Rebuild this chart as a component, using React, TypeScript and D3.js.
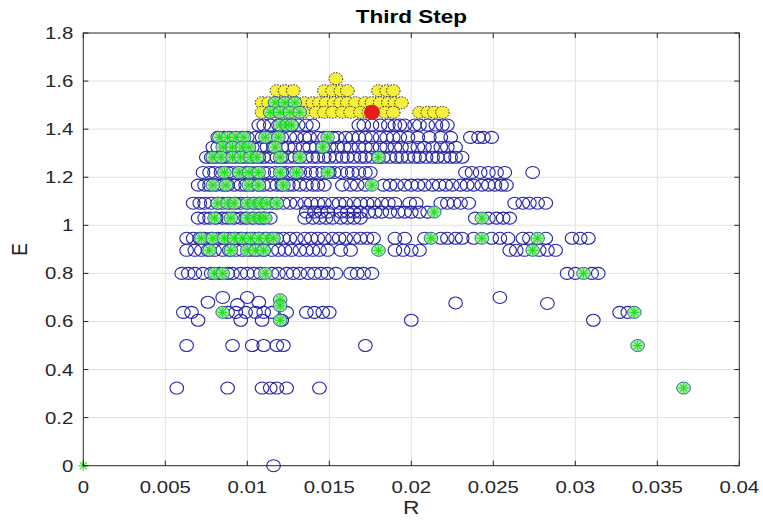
import React from "react";
import * as d3 from "d3";

// tick labels
const xTicks = [0, 0.005, 0.01, 0.015, 0.02, 0.025, 0.03, 0.035, 0.04];
const xTickLabels = ["0", "0.005", "0.01", "0.015", "0.02", "0.025", "0.03", "0.035", "0.04"];
const yTicks = [0, 0.2, 0.4, 0.6, 0.8, 1, 1.2, 1.4, 1.6, 1.8];
const yTickLabels = ["0", "0.2", "0.4", "0.6", "0.8", "1", "1.2", "1.4", "1.6", "1.8"];

// blue open circles, one row per E level: [E, R values]
const circleRows: [number, number[]][] = [
  [1.417, [0.0107, 0.0110, 0.0114, 0.0119, 0.0123, 0.0127, 0.0131, 0.0136, 0.0140, 0.0168, 0.0171, 0.0176, 0.0181, 0.0186, 0.0190, 0.0193, 0.0196, 0.0202, 0.0205, 0.0210, 0.0215, 0.0219, 0.0222]],
  [1.366, [0.0082, 0.0086, 0.0089, 0.0093, 0.0097, 0.0100, 0.0105, 0.0109, 0.0113, 0.0117, 0.0121, 0.0126, 0.0130, 0.0135, 0.0138, 0.0143, 0.0147, 0.0152, 0.0155, 0.0160, 0.0164, 0.0168, 0.0172, 0.0176, 0.0181, 0.0185, 0.0189, 0.0193, 0.0198, 0.0204, 0.0211, 0.0218, 0.0224, 0.0236, 0.0241, 0.0244, 0.0249]],
  [1.325, [0.0079, 0.0082, 0.0087, 0.0091, 0.0094, 0.0099, 0.0103, 0.0108, 0.0112, 0.0116, 0.0121, 0.0125, 0.0129, 0.0134, 0.0138, 0.0142, 0.0146, 0.0150, 0.0155, 0.0159, 0.0163, 0.0168, 0.0172, 0.0176, 0.0181, 0.0185, 0.0190, 0.0194, 0.0199, 0.0204, 0.0208, 0.0213, 0.0218, 0.0222, 0.0227]],
  [1.283, [0.0075, 0.0078, 0.0081, 0.0085, 0.0088, 0.0092, 0.0096, 0.0099, 0.0103, 0.0107, 0.0110, 0.0114, 0.0118, 0.0121, 0.0125, 0.0129, 0.0132, 0.0136, 0.0140, 0.0143, 0.0147, 0.0150, 0.0154, 0.0158, 0.0161, 0.0165, 0.0169, 0.0172, 0.0176, 0.0180, 0.0183, 0.0187, 0.0191, 0.0194, 0.0198, 0.0202, 0.0205, 0.0209, 0.0213, 0.0216, 0.0220, 0.0224, 0.0227, 0.0231]],
  [1.22, [0.0073, 0.0077, 0.0080, 0.0084, 0.0088, 0.0091, 0.0095, 0.0099, 0.0102, 0.0106, 0.0110, 0.0113, 0.0117, 0.0121, 0.0124, 0.0128, 0.0132, 0.0135, 0.0139, 0.0142, 0.0146, 0.0150, 0.0153, 0.0157, 0.0161, 0.0164, 0.0168, 0.0172, 0.0175, 0.0233, 0.0237, 0.0242, 0.0247, 0.0252, 0.0257, 0.0274]],
  [1.167, [0.0070, 0.0074, 0.0077, 0.0081, 0.0085, 0.0088, 0.0092, 0.0096, 0.0099, 0.0103, 0.0107, 0.0110, 0.0114, 0.0118, 0.0121, 0.0125, 0.0128, 0.0132, 0.0136, 0.0140, 0.0143, 0.0147, 0.0158, 0.0163, 0.0167, 0.0172, 0.0183, 0.0187, 0.0191, 0.0196, 0.0200, 0.0204, 0.0208, 0.0213, 0.0217, 0.0221, 0.0225, 0.0230, 0.0234, 0.0238, 0.0243, 0.0247, 0.0251, 0.0255, 0.0258]],
  [1.092, [0.0067, 0.0071, 0.0074, 0.0078, 0.0082, 0.0085, 0.0089, 0.0093, 0.0096, 0.0100, 0.0104, 0.0107, 0.0111, 0.0115, 0.0118, 0.0122, 0.0126, 0.0130, 0.0135, 0.0139, 0.0143, 0.0147, 0.0152, 0.0156, 0.0160, 0.0165, 0.0169, 0.0173, 0.0177, 0.0182, 0.0186, 0.0190, 0.0199, 0.0203, 0.0218, 0.0222, 0.0226, 0.0230, 0.0235, 0.0263, 0.0268, 0.0272, 0.0277, 0.0282]],
  [1.055, [0.0136, 0.0141, 0.0145, 0.0149, 0.0157, 0.0161, 0.0165, 0.0169, 0.0174, 0.0178, 0.0182, 0.0187, 0.0192, 0.0196, 0.0200, 0.0205, 0.0210]],
  [1.03, [0.0070, 0.0074, 0.0077, 0.0081, 0.0085, 0.0088, 0.0092, 0.0096, 0.0099, 0.0103, 0.0107, 0.0110, 0.0114, 0.0135, 0.0140, 0.0144, 0.0148, 0.0152, 0.0157, 0.0161, 0.0165, 0.0169, 0.0239, 0.0247, 0.0252, 0.0256, 0.0260]],
  [0.946, [0.0063, 0.0067, 0.0071, 0.0074, 0.0078, 0.0082, 0.0085, 0.0089, 0.0093, 0.0096, 0.0100, 0.0104, 0.0107, 0.0111, 0.0115, 0.0118, 0.0122, 0.0126, 0.0130, 0.0135, 0.0139, 0.0143, 0.0147, 0.0152, 0.0156, 0.0160, 0.0165, 0.0169, 0.0173, 0.0177, 0.0190, 0.0196, 0.0208, 0.0218, 0.0222, 0.0227, 0.0231, 0.0238, 0.0249, 0.0254, 0.0259, 0.0268, 0.0272, 0.0282, 0.0298, 0.0303, 0.0308]],
  [0.896, [0.0063, 0.0068, 0.0072, 0.0076, 0.0080, 0.0085, 0.0089, 0.0093, 0.0097, 0.0102, 0.0106, 0.0110, 0.0115, 0.0119, 0.0123, 0.0127, 0.0132, 0.0136, 0.0140, 0.0144, 0.0149, 0.0157, 0.0163, 0.0190, 0.0195, 0.0200, 0.0205, 0.0260, 0.0264, 0.0269, 0.0278, 0.0283, 0.0288]],
  [0.80, [0.0060, 0.0064, 0.0068, 0.0073, 0.0078, 0.0083, 0.0088, 0.0091, 0.0096, 0.0100, 0.0104, 0.0108, 0.0115, 0.0119, 0.0124, 0.0128, 0.0132, 0.0137, 0.0141, 0.0145, 0.0149, 0.0154, 0.0163, 0.0167, 0.0171, 0.0176, 0.0295, 0.0300, 0.0310, 0.0314]],
  [0.638, [0.0061, 0.0066, 0.0088, 0.0093, 0.0099, 0.0105, 0.0110, 0.0115, 0.0124, 0.0136, 0.0141, 0.0146, 0.0150, 0.0327, 0.0332]],
  [0.605, [0.0070, 0.0096, 0.0109, 0.0121, 0.0200, 0.0311]],
  [0.5, [0.0063, 0.0091, 0.0103, 0.0110, 0.0118, 0.0122, 0.0172]],
  [0.323, [0.0057, 0.0088, 0.0109, 0.0114, 0.0118, 0.0124, 0.0144]],
  [0, [0.0116]],
];

// scattered circles off the main rows: [R, E]
const circleExtra: [number, number][] = [
  [0.0076, 0.68], [0.0085, 0.70], [0.0094, 0.67], [0.0100, 0.70], [0.0107, 0.68],
  [0.0227, 0.677], [0.0254, 0.70], [0.0283, 0.675],
];

// green star points: [E, R values]
const greenRows: [number, number[]][] = [
  [1.51, [0.0117, 0.0123, 0.0129]],
  [1.47, [0.0114, 0.0120, 0.0126, 0.0132]],
  [1.417, [0.0120, 0.0124, 0.0127]],
  [1.366, [0.0083, 0.0088, 0.0093, 0.0098, 0.0111, 0.0119, 0.0149]],
  [1.325, [0.0085, 0.0091, 0.0097, 0.0101, 0.0117, 0.0146]],
  [1.283, [0.0079, 0.0084, 0.0091, 0.0096, 0.0102, 0.0106, 0.0120, 0.0132, 0.0180]],
  [1.22, [0.0086, 0.0095, 0.0101, 0.0107, 0.0120, 0.0130, 0.0149]],
  [1.167, [0.0079, 0.0087, 0.0101, 0.0107, 0.0122, 0.0176]],
  [1.092, [0.0082, 0.0088, 0.0092, 0.0100, 0.0104, 0.0108, 0.0112, 0.0118]],
  [1.055, [0.0214]],
  [1.03, [0.0080, 0.0090, 0.0100, 0.0104, 0.0108, 0.0111, 0.0243]],
  [0.946, [0.0072, 0.0079, 0.0086, 0.0092, 0.0097, 0.0102, 0.0107, 0.0112, 0.0116, 0.0212, 0.0243, 0.0277]],
  [0.896, [0.0077, 0.0090, 0.0100, 0.0105, 0.0110, 0.0180, 0.0274]],
  [0.80, [0.0080, 0.0085, 0.0111, 0.0305]],
  [0.69, [0.0120]],
  [0.665, [0.0120]],
  [0.638, [0.0085, 0.0336]],
  [0.605, [0.0120]],
  [0.5, [0.0338]],
  [0.323, [0.0366]],
];
const starOnly: [number, number][] = [[0, 0]];

// yellow filled points: [E, R values]
const yellowRows: [number, number[]][] = [
  [1.61, [0.0154]],
  [1.56, [0.0118, 0.0123, 0.0128, 0.0147, 0.0152, 0.0157, 0.0161, 0.0180, 0.0185, 0.0189]],
  [1.51, [0.0109, 0.0113, 0.0117, 0.0121, 0.0126, 0.0130, 0.0135, 0.0140, 0.0144, 0.0148, 0.0153, 0.0157, 0.0161, 0.0166, 0.0172, 0.0176, 0.0181, 0.0186, 0.0190, 0.0194]],
  [1.47, [0.0109, 0.0114, 0.0119, 0.0124, 0.0129, 0.0134, 0.0142, 0.0147, 0.0152, 0.0158, 0.0163, 0.0169, 0.0174, 0.0184, 0.0189, 0.0205, 0.0210, 0.0214, 0.0219]],
];
const redPts: [number, number][] = [[0.0176, 1.47]];

const flat = (rows: [number, number[]][]): [number, number][] =>
  rows.flatMap(([e, rs]) => rs.map((r) => [r, e] as [number, number]));

const W = 763;
const H = 521;
const x = d3.scaleLinear([0, 0.04], [83.3, 739.3]);
const y = d3.scaleLinear([0, 1.8], [465.7, 33]);
const axisColor = "#262626";
const font = "'Liberation Sans', Arial, sans-serif";

function Star({ cx, cy }: { cx: number; cy: number }) {
  const s = 5;
  const d = s * 0.72;
  return (
    <g stroke="#1ee01e" strokeWidth={1.1}>
      <line x1={cx - s} x2={cx + s} y1={cy} y2={cy} />
      <line x1={cx} x2={cx} y1={cy - s} y2={cy + s} />
      <line x1={cx - d} x2={cx + d} y1={cy - d} y2={cy + d} />
      <line x1={cx - d} x2={cx + d} y1={cy + d} y2={cy - d} />
    </g>
  );
}

export default function App() {
  const circles = [...flat(circleRows), ...circleExtra];
  const greens = flat(greenRows);
  const yellows = flat(yellowRows);
  const [x0, x1] = x.range();
  const [y0, y1] = y.range();

  return (
    <svg width={W} height={H} style={{ position: "absolute", left: 0, top: 0, background: "#fff" }}>
      {/* grid */}
      <g stroke="#e1e1e1" strokeWidth={1}>
        {xTicks.slice(1, -1).map((t) => (
          <line key={"gx" + t} x1={x(t)} x2={x(t)} y1={y1} y2={y0} />
        ))}
        {yTicks.slice(1, -1).map((t) => (
          <line key={"gy" + t} x1={x0} x2={x1} y1={y(t)} y2={y(t)} />
        ))}
      </g>

      {/* blue circles */}
      <g fill="none" stroke="#2424a8" strokeWidth={1.1}>
        {circles.map(([r, e], i) => (
          <ellipse key={i} cx={x(r)} cy={y(e)} rx={6.8} ry={6} />
        ))}
      </g>

      {/* yellow */}
      <g fill="#f6f03a" stroke="#1a1a1a" strokeWidth={1} strokeDasharray="1.5,1.5">
        {yellows.map(([r, e], i) => (
          <ellipse key={i} cx={x(r)} cy={y(e)} rx={6.8} ry={6} />
        ))}
      </g>

      {/* red */}
      {redPts.map(([r, e], i) => (
        <ellipse key={i} cx={x(r)} cy={y(e)} rx={8} ry={7.5} fill="#e81c1c" />
      ))}

      {/* green */}
      <g fill="#9eea9e" fillOpacity={0.85} stroke="#2b6a8e" strokeWidth={1}>
        {greens.map(([r, e], i) => (
          <ellipse key={i} cx={x(r)} cy={y(e)} rx={6.8} ry={6} />
        ))}
      </g>
      {[...greens, ...starOnly].map(([r, e], i) => (
        <Star key={i} cx={x(r)} cy={y(e)} />
      ))}

      {/* box and ticks */}
      <rect x={x0} y={y1} width={x1 - x0} height={y0 - y1} fill="none" stroke={axisColor} strokeWidth={1} />
      <g stroke={axisColor} strokeWidth={1}>
        {xTicks.map((t) => (
          <g key={"tx" + t}>
            <line x1={x(t)} x2={x(t)} y1={y0} y2={y0 - 5} />
            <line x1={x(t)} x2={x(t)} y1={y1} y2={y1 + 5} />
          </g>
        ))}
        {yTicks.map((t) => (
          <g key={"ty" + t}>
            <line x1={x0} x2={x0 + 5} y1={y(t)} y2={y(t)} />
            <line x1={x1} x2={x1 - 5} y1={y(t)} y2={y(t)} />
          </g>
        ))}
      </g>

      {/* tick labels */}
      <g fill={axisColor} fontFamily={font} fontSize={17}>
        {xTicks.map((t, i) => (
          <text key={"lx" + t} textAnchor="middle" transform={`translate(${x(t)},${y0 + 27}) scale(1.2,1)`}>
            {xTickLabels[i]}
          </text>
        ))}
        {yTicks.map((t, i) => (
          <text key={"ly" + t} textAnchor="end" transform={`translate(${x0 - 10},${y(t) + 6}) scale(1.2,1)`}>
            {yTickLabels[i]}
          </text>
        ))}
      </g>

      {/* labels */}
      <text fontFamily={font} fontSize={19} fill={axisColor} textAnchor="middle"
        transform={`translate(${(x0 + x1) / 2},${y0 + 48}) scale(1.2,1)`}>R</text>
      <text fontFamily={font} fontSize={19} fill={axisColor} textAnchor="middle"
        transform={`translate(27,${(y0 + y1) / 2}) rotate(-90) scale(1,1.2)`}>E</text>
      <text fontFamily={font} fontSize={18} fontWeight="bold" fill="#000" textAnchor="middle"
        transform={`translate(${(x0 + x1) / 2},23) scale(1.25,1)`}>Third Step</text>
    </svg>
  );
}
